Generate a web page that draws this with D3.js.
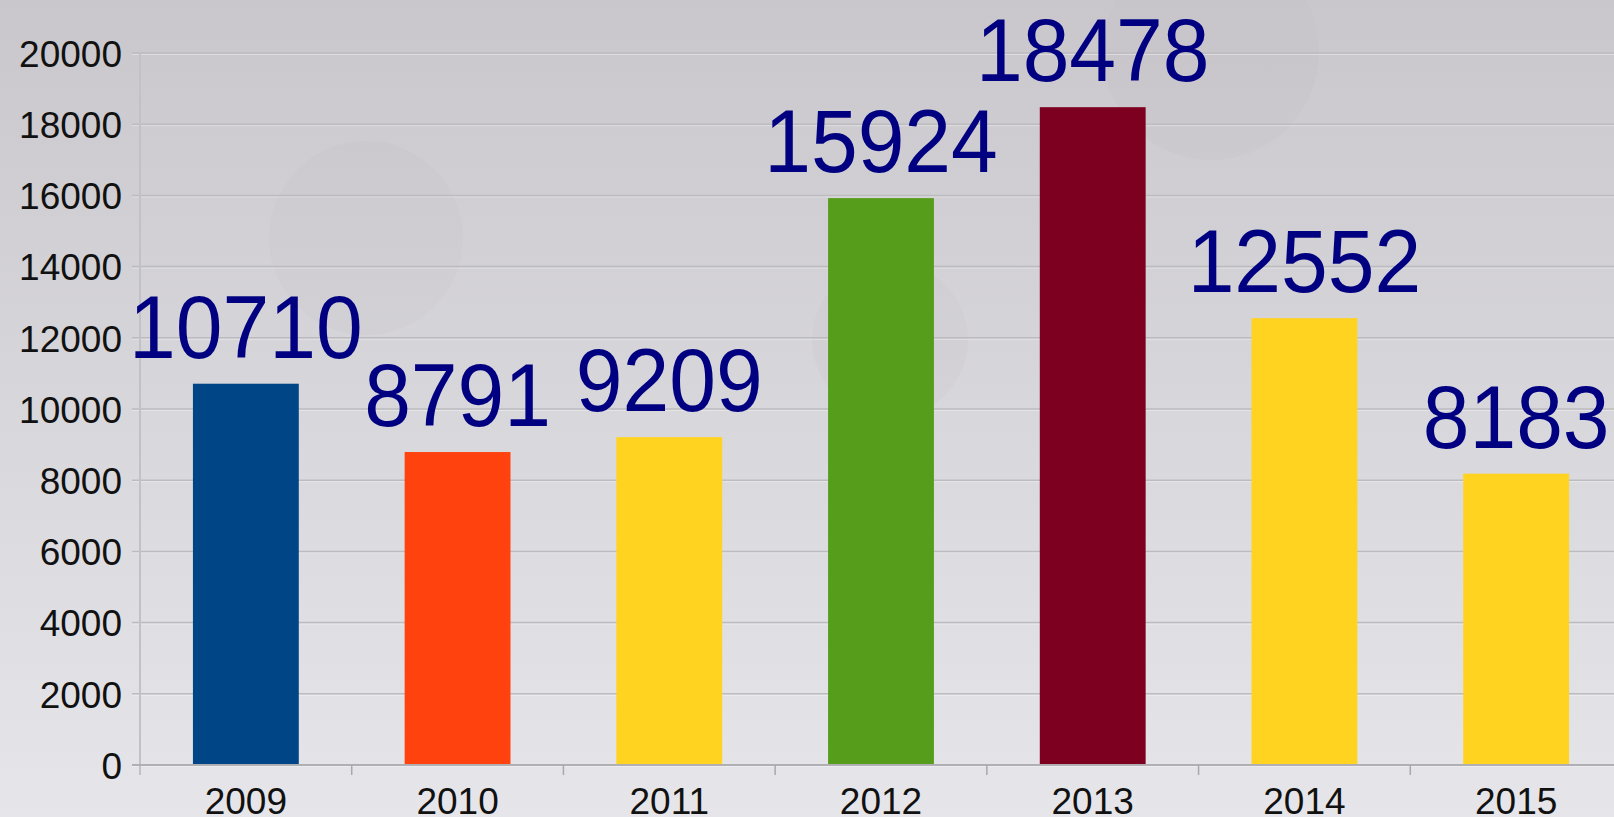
<!DOCTYPE html>
<html>
<head>
<meta charset="utf-8">
<script src="https://cdn.jsdelivr.net/npm/d3@7"></script>
<style>
    html, body { margin: 0; padding: 0; overflow: hidden; }
    .tick-label { font-family: 'Liberation Sans', Arial, sans-serif; font-size: 37px; fill: #111111; }
    .value-label { font-family: 'Liberation Sans', Arial, sans-serif; font-size: 84px; fill: #000080; }
</style>
</head>
<body>
<div id="vis"></div>
<script>
const years = ["2009", "2010", "2011", "2012", "2013", "2014", "2015"];
const values = [10710, 8791, 9209, 15924, 18478, 12552, 8183];
const barColors = ["#004586", "#ff420e", "#ffd320", "#579d1c", "#7e0021", "#ffd320", "#ffd320"];
const yTicks = [0, 2000, 4000, 6000, 8000, 10000, 12000, 14000, 16000, 18000, 20000];

const width = 1614;
const height = 817;
const margin = ({ top: 53, right: -8, bottom: 52, left: 140 });

const svg = d3.select("#vis")
    .append("svg")
    .attr("width", width)
    .attr("height", height);

// background gradient
const defs = svg.append("defs");
const grad = defs.append("linearGradient")
    .attr("id", "bg")
    .attr("x1", 0).attr("y1", 0)
    .attr("x2", 0).attr("y2", 1);
grad.append("stop").attr("offset", "0%").attr("stop-color", "#c9c7cb");
grad.append("stop").attr("offset", "100%").attr("stop-color", "#e6e6ea");

svg.append("rect")
    .attr("width", width)
    .attr("height", height)
    .attr("fill", "url(#bg)");

// faint decorative bubbles in the backdrop
const bubbles = [
    { cx: 366, cy: 238, r: 97 },
    { cx: 1211, cy: 52, r: 108 },
    { cx: 890, cy: 340, r: 78 }
];
svg.selectAll(".bubble")
    .data(bubbles)
    .join("circle")
    .attr("class", "bubble")
    .attr("cx", d => d.cx)
    .attr("cy", d => d.cy)
    .attr("r", d => d.r)
    .attr("fill", "#b9b4bd")
    .attr("opacity", 0.09);

const x = d3.scaleBand()
    .domain(years)
    .range([margin.left, width - margin.right])
    .paddingInner(0.5)
    .paddingOuter(0.25);

const y = d3.scaleLinear()
    .domain([0, 20000])
    .range([height - margin.bottom, margin.top]);

const step = x.step();

// gridlines (dark line + light line underneath)
svg.append("g")
    .selectAll("line")
    .data(yTicks)
    .join("line")
    .attr("x1", margin.left - 8)
    .attr("x2", width)
    .attr("y1", d => y(d) + 1.5)
    .attr("y2", d => y(d) + 1.5)
    .attr("stroke", "#ffffff")
    .attr("stroke-opacity", 0.35)
    .attr("stroke-width", 1);

svg.append("g")
    .selectAll("line")
    .data(yTicks.filter(d => d > 0))
    .join("line")
    .attr("x1", margin.left - 8)
    .attr("x2", width)
    .attr("y1", d => y(d))
    .attr("y2", d => y(d))
    .attr("stroke", "#bcbbc0")
    .attr("stroke-width", 1.5);

// y axis
const yAxis = g => g
    .attr("transform", `translate(${margin.left},0)`)
    .call(d3.axisLeft(y).tickValues(yTicks).tickSize(0).tickPadding(18).tickFormat(d3.format("d")))
    .call(g => g.select(".domain").remove())
    .call(g => g.selectAll("text").attr("class", "tick-label").attr("font-size", null).attr("font-family", null).attr("fill", null).attr("dy", "0.36em"));

svg.append("g").call(yAxis);

// vertical axis line
svg.append("line")
    .attr("x1", margin.left).attr("x2", margin.left)
    .attr("y1", y(20000)).attr("y2", y(0) + 10)
    .attr("stroke", "#c2c1c5")
    .attr("stroke-width", 2);

// bars
svg.selectAll(".bar")
    .data(values)
    .join("rect")
    .attr("class", "bar")
    .attr("x", (d, i) => x(years[i]))
    .attr("width", x.bandwidth())
    .attr("y", d => y(d))
    .attr("height", d => y(0) - y(d))
    .attr("fill", (d, i) => barColors[i]);

// baseline
svg.append("line")
    .attr("x1", margin.left - 8).attr("x2", width)
    .attr("y1", y(0)).attr("y2", y(0))
    .attr("stroke", "#b0afb3")
    .attr("stroke-width", 2);

// category separators
svg.append("g")
    .selectAll("line")
    .data(years.slice(1))
    .join("line")
    .attr("x1", d => x(d) - step * 0.25)
    .attr("x2", d => x(d) - step * 0.25)
    .attr("y1", y(0))
    .attr("y2", y(0) + 10)
    .attr("stroke", "#a9a8ac")
    .attr("stroke-width", 1.5);

// x labels
svg.append("g")
    .selectAll("text")
    .data(years)
    .join("text")
    .attr("class", "tick-label")
    .attr("text-anchor", "middle")
    .attr("x", d => x(d) + x.bandwidth() / 2)
    .attr("y", y(0) + 49)
    .text(d => d);

// value labels
svg.append("g")
    .selectAll("text")
    .data(values)
    .join("text")
    .attr("class", "value-label")
    .attr("text-anchor", "middle")
    .attr("transform", (d, i) => `translate(${x(years[i]) + x.bandwidth() / 2},${y(d) - 26}) scale(1,1.06)`)
    .text(d => d);
</script>
</body>
</html>
